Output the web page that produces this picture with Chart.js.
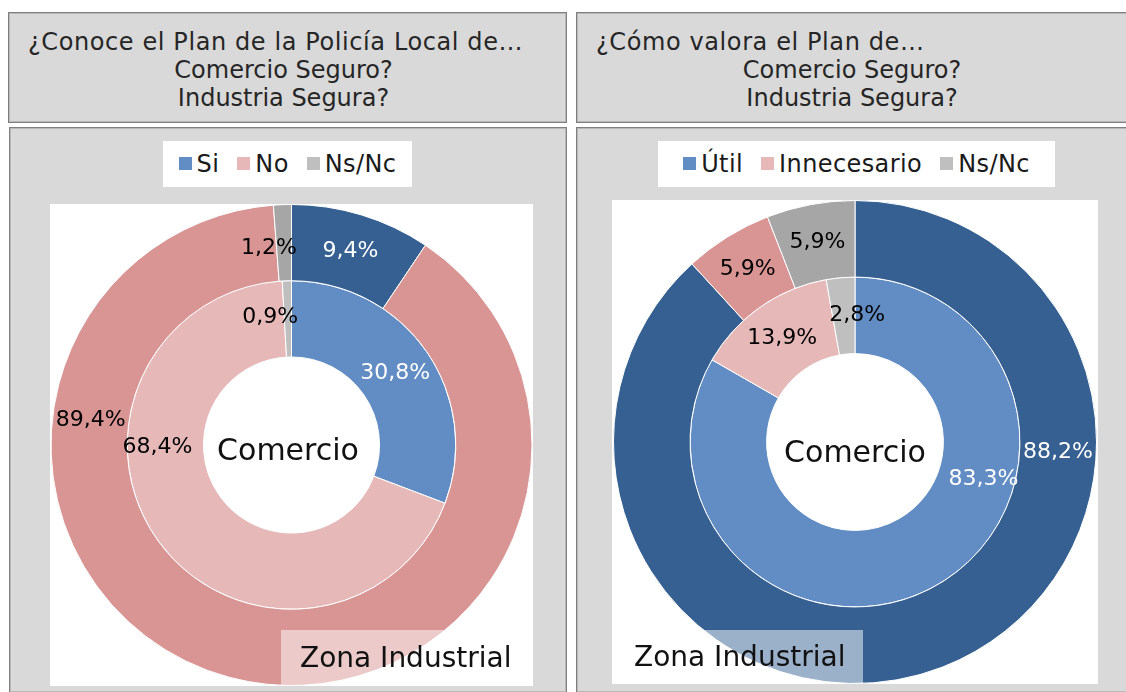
<!DOCTYPE html>
<html lang="es">
<head>
<meta charset="utf-8">
<script src="https://cdn.jsdelivr.net/npm/chart.js@4.4.0/dist/chart.umd.min.js"></script>
<style>
  body { margin: 0; width: 1126px; height: 692px; overflow: hidden; background: #fff; position: relative;
         font-family: "DejaVu Sans", sans-serif; color: #262626; }
  .box { position: absolute; box-sizing: border-box; background: #d9d9d9;
         border: 1px solid #7f7f7f; box-shadow: inset 0 0 0 1px #b8b8b8; }
  .title { font-size: 24px; line-height: 28px; padding-top: 15px; white-space: nowrap; }
  .title .l1 { padding-left: 19px; letter-spacing: 0.6px; }
  .title .c { text-align: center; padding-right: 8px; }
  .legend { position: absolute; background: #fff; display: flex; align-items: center; justify-content: center;
            gap: 18px; font-size: 24px; letter-spacing: 0.4px; color: #1a1a1a; }
  .legend span.sw { display: inline-block; width: 13px; height: 13px; margin-right: 5px; vertical-align: 2px; }
  canvas { position: absolute; background: #fff; }
  .centro { position: absolute; font-size: 30px; color: #111; transform: translate(-50%, -50%); white-space: nowrap; }
  .zona { position: absolute; background: rgba(255,255,255,0.5); font-size: 28px; color: #111;
          box-sizing: border-box; line-height: 56px; white-space: nowrap; }
</style>
</head>
<body>

<div class="box title" style="left:8px; top:12px; width:559px; height:111px;">
  <div class="l1">¿Conoce el Plan de la Policía Local de…</div>
  <div class="c">Comercio Seguro?</div>
  <div class="c">Industria Segura?</div>
</div>
<div class="box title" style="left:576px; top:12px; width:560px; height:111px;">
  <div class="l1">¿Cómo valora el Plan de…</div>
  <div class="c">Comercio Seguro?</div>
  <div class="c">Industria Segura?</div>
</div>

<div class="box" style="left:9px; top:127px; width:558px; height:566px;"></div>
<div class="box" style="left:576px; top:127px; width:560px; height:566px;"></div>

<div class="legend" id="legendA" style="left:163px; top:141px; width:249px; height:46px;"></div>
<div class="legend" id="legendB" style="left:658px; top:141px; width:397px; height:46px;"></div>

<canvas id="chartA" width="483" height="482" style="left:50px; top:204px;"></canvas>
<canvas id="chartB" width="486" height="484" style="left:612px; top:200px;"></canvas>

<div class="centro" style="left:288px; top:449px;">Comercio</div>
<div class="centro" style="left:855px; top:451px;">Comercio</div>

<div class="zona" style="left:281px; top:630px; width:252px; height:56px; padding-left:19px;">Zona Industrial</div>
<div class="zona" style="left:612px; top:630px; width:251px; height:54px; padding-left:22px; line-height:54px;">Zona Industrial</div>

<script>
// datos
const conoceLabels = ['Si', 'No', 'Ns/Nc'];
const valoraLabels = ['Útil', 'Innecesario', 'Ns/Nc'];

const conoceIndustria = [9.4, 89.4, 1.2];
const conoceComercio = [30.8, 68.4, 0.9];
const valoraIndustria = [88.2, 5.9, 5.9];
const valoraComercio = [83.3, 13.9, 2.8];

// colores (anillo exterior = Zona Industrial, interior = Comercio)
const outerColors = ['#366092', '#d99594', '#a6a6a6'];
const innerColors = ['#628dc4', '#e6b8b7', '#bfbfbf'];
const outerText = ['#fff', '#000', '#000'];
const innerText = ['#fff', '#000', '#000'];

// posición de etiquetas que no van al centro del sector (grados desde arriba, desplazamiento radial)
const posA_outer = [null, [277, 0], [353.5, -4]];
const posA_inner = [null, [269, 8], [350.5, 3]];
const posB_outer = [[93, 0], null, null];
const posB_inner = [[106, 7], null, [1, 0]];

function fmt(v) {
    return v.toFixed(1).replace('.', ',') + '%';
}

// etiquetas de datos sobre los arcos
const arcLabels = {
    id: 'arcLabels',
    afterDatasetsDraw(chart) {
        const ctx = chart.ctx;
        ctx.save();
        ctx.font = '22px "DejaVu Sans", sans-serif';
        ctx.textAlign = 'center';
        ctx.textBaseline = 'middle';
        chart.data.datasets.forEach((ds, di) => {
            const meta = chart.getDatasetMeta(di);
            meta.data.forEach((arc, i) => {
                const p = arc.getProps(['x', 'y', 'startAngle', 'endAngle', 'innerRadius', 'outerRadius'], true);
                const pos = ds.labelPos[i];
                const a = pos ? -Math.PI / 2 + pos[0] * Math.PI / 180 : (p.startAngle + p.endAngle) / 2;
                const r = (p.innerRadius + p.outerRadius) / 2 + (pos ? pos[1] : 0);
                ctx.fillStyle = ds.labelColor[i];
                ctx.fillText(fmt(ds.data[i]), p.x + r * Math.cos(a), p.y + r * Math.sin(a));
            });
        });
        ctx.restore();
    }
};

function buildLegend(id, labels) {
    const el = document.getElementById(id);
    el.innerHTML = labels.map((l, i) =>
        `<div><span class="sw" style="background:${innerColors[i]}"></span>${l}</div>`).join('');
}

function makeChart(id, labels, outer, inner, posOuter, posInner) {
    new Chart(document.getElementById(id), {
        type: 'doughnut',
        data: {
            labels: labels,
            datasets: [{
                label: 'Zona Industrial',
                data: outer,
                backgroundColor: outerColors,
                borderColor: '#fff',
                borderWidth: 1,
                labelColor: outerText,
                labelPos: posOuter
            }, {
                label: 'Comercio',
                data: inner,
                backgroundColor: innerColors,
                borderColor: '#fff',
                borderWidth: 1,
                labelColor: innerText,
                labelPos: posInner
            }]
        },
        options: {
            responsive: false,
            animation: false,
            cutout: '36.6%',
            layout: { padding: 0 },
            plugins: {
                legend: { display: false },
                tooltip: { enabled: false }
            }
        },
        plugins: [arcLabels]
    });
}

buildLegend('legendA', conoceLabels);
buildLegend('legendB', valoraLabels);
makeChart('chartA', conoceLabels, conoceIndustria, conoceComercio, posA_outer, posA_inner);
makeChart('chartB', valoraLabels, valoraIndustria, valoraComercio, posB_outer, posB_inner);
</script>
</body>
</html>
